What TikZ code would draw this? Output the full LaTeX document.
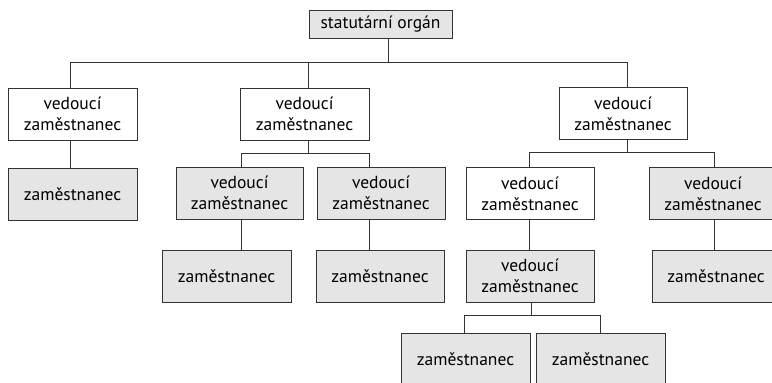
\documentclass[tikz,border=0pt]{standalone}
\usepackage{fontspec}
\setmainfont{PT Sans}
\begin{document}
\begin{tikzpicture}[x=1pt,y=-1pt,
  box/.style={draw=black!80, line width=0.8pt, minimum width=129pt, minimum height=52pt,
    inner sep=0pt, align=center, font=\fontsize{17.5}{21}\selectfont},
  greybox/.style={box, fill=black!10},
  whitebox/.style={box, fill=white},
  conn/.style={draw=black!80, line width=0.8pt}]
\useasboundingbox (0,0) rectangle (772,383);
\clip (0,0) rectangle (772,383);

% nodes
\node[greybox, minimum width=143pt, minimum height=28pt] (top) at (380.5,24) {statutární orgán};
\node[whitebox] (v1) at (72.5,114) {vedoucí\\zaměstnanec};
\node[greybox] (z1) at (72.5,194) {zaměstnanec};
\node[whitebox] (v2) at (304.5,114) {vedoucí\\zaměstnanec};
\node[greybox, minimum width=127pt] (v21) at (239.5,193) {vedoucí\\zaměstnanec};
\node[greybox, minimum width=128pt] (v22) at (381,193) {vedoucí\\zaměstnanec};
\node[greybox] (z21) at (226.5,276.5) {zaměstnanec};
\node[greybox, minimum width=128pt] (z22) at (380,276.5) {zaměstnanec};
\node[whitebox, minimum width=128pt] (v3) at (623,113.5) {vedoucí\\zaměstnanec};
\node[whitebox, minimum width=128pt] (v31) at (530,193.5) {vedoucí\\zaměstnanec};
\node[greybox, minimum width=128pt] (v32) at (713,193.5) {vedoucí\\zaměstnanec};
\node[greybox, minimum width=128pt] (v311) at (530,276) {vedoucí\\zaměstnanec};
\node[greybox, minimum width=128pt] (z32) at (716,276) {zaměstnanec};
\node[greybox] (z3111) at (465.5,359) {zaměstnanec};
\node[greybox] (z3112) at (600.5,359) {zaměstnanec};

% level 1
\coordinate (t1) at ([xshift=-2.5pt]v1.north);
\coordinate (t2) at ([xshift=3.5pt]v2.north);
\coordinate (t3) at ([xshift=4pt]v3.north);
\draw[conn] ([xshift=7.5pt]top.south) -- ++(0,24) coordinate (b0);
\draw[conn] (t1) |- (b0) -| (t3);
\draw[conn] (t2) -- (t2 |- b0);
\draw[conn] (t1 |- v1.south) -- (t1 |- z1.north);

% middle branch
\path (t2 |- v2.south) ++(0,13) coordinate (b2);
\coordinate (t21) at ([xshift=1.5pt]v21.north);
\coordinate (t22) at ([xshift=-12pt]v22.north);
\draw[conn] (t2 |- v2.south) -- (b2);
\draw[conn] (t21) |- (b2) -| (t22);
\draw[conn] (t21 |- v21.south) -- (t21 |- z21.north);
\draw[conn] (t22 |- v22.south) -- (t22 |- z22.north);

% right branch
\path (t3 |- v3.south) ++(0,12) coordinate (b3);
\coordinate (t31) at ([xshift=-1pt]v31.north);
\coordinate (t32) at ([xshift=1pt]v32.north);
\draw[conn] (t3 |- v3.south) -- (b3);
\draw[conn] (t31) |- (b3) -| (t32);
\draw[conn] (t31 |- v31.south) -- (t31 |- v311.north);
\draw[conn] (t32 |- v32.south) -- (t32 |- z32.north);

% bottom
\coordinate (s311) at ([xshift=1.5pt]v311.south);
\path (s311) ++(0,13) coordinate (b311);
\draw[conn] (s311) -- (b311);
\draw[conn] ([xshift=-1.5pt]z3111.north) |- (b311) -| (z3112.north);
\end{tikzpicture}
\end{document}
